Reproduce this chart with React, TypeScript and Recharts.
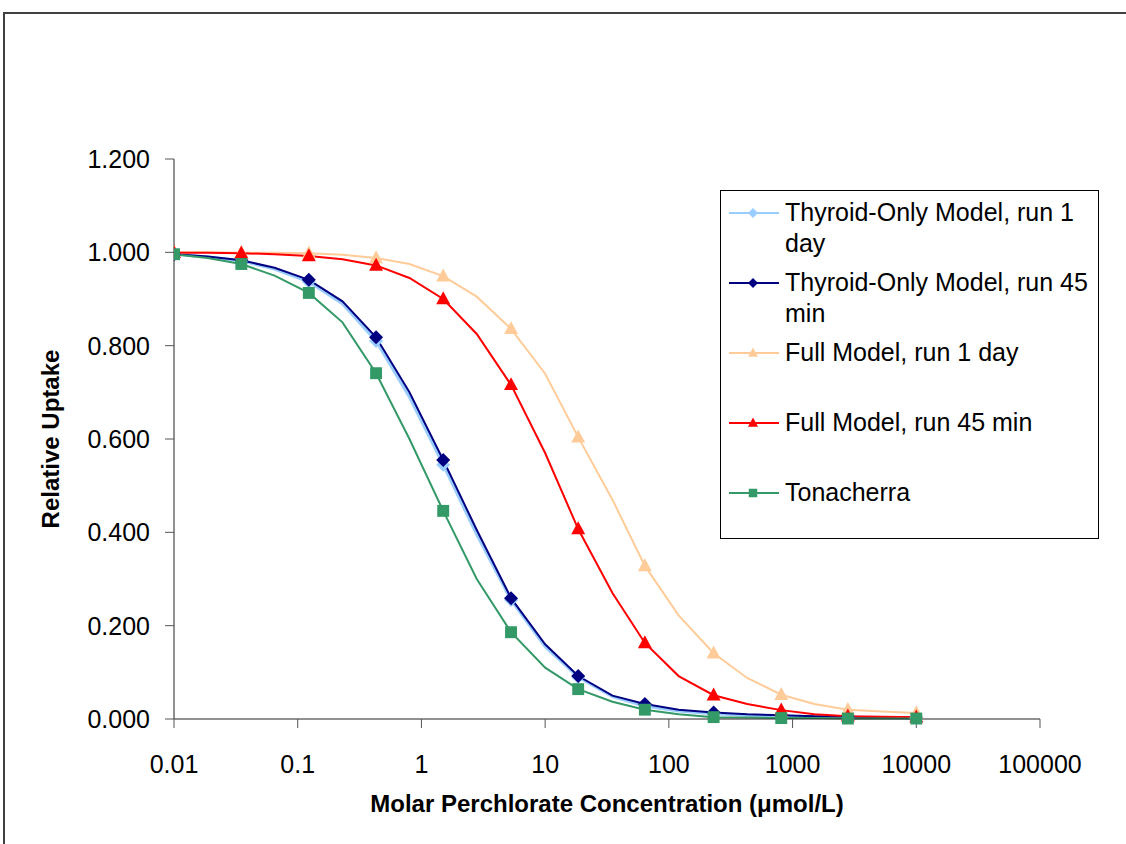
import * as React from 'react';
import { LineChart, Line, XAxis, YAxis, Legend, Label } from 'recharts';

// concentrations (µmol/L); markers sit on every other point
const conc = [0.01, 0.0187, 0.035, 0.065, 0.123, 0.23, 0.43, 0.8, 1.5, 2.8, 5.3, 10, 18.5, 35, 64, 120, 230, 430, 810, 1500, 2800, 5300, 10000];

const thyroid1Day = [0.996, 0.99, 0.982, 0.964, 0.937, 0.89, 0.81, 0.69, 0.545, 0.395, 0.255, 0.155, 0.09, 0.048, 0.028, 0.017, 0.011, 0.008, 0.006, 0.005, 0.004, 0.003, 0.002];
const thyroid45Min = [0.996, 0.991, 0.983, 0.967, 0.941, 0.895, 0.818, 0.7, 0.555, 0.405, 0.259, 0.16, 0.092, 0.05, 0.032, 0.02, 0.014, 0.01, 0.008, 0.006, 0.005, 0.004, 0.003];
const full1Day = [1.0, 1.0, 0.999, 0.999, 0.998, 0.995, 0.988, 0.975, 0.949, 0.905, 0.836, 0.74, 0.604, 0.47, 0.328, 0.222, 0.141, 0.088, 0.052, 0.032, 0.02, 0.016, 0.013];
const full45Min = [0.999, 0.999, 0.998, 0.996, 0.992, 0.985, 0.972, 0.945, 0.9, 0.825, 0.716, 0.57, 0.407, 0.27, 0.163, 0.092, 0.051, 0.032, 0.019, 0.01, 0.006, 0.005, 0.004];
const tonacherra = [0.996, 0.988, 0.975, 0.95, 0.913, 0.85, 0.741, 0.6, 0.446, 0.3, 0.186, 0.11, 0.064, 0.037, 0.02, 0.01, 0.004, 0.003, 0.002, 0.002, 0.001, 0.001, 0.001];

const xTicks = [0.01, 0.1, 1, 10, 100, 1000, 10000, 100000];
const yTicks = [0, 0.2, 0.4, 0.6, 0.8, 1.0, 1.2];

type Shape = 'diamond' | 'triangle' | 'square';

const series: { key: string; name: string; lines: string[]; color: string; shape: Shape; width: number }[] = [
  { key: 't1d', name: 'Thyroid-Only Model, run 1 day', lines: ['Thyroid-Only Model, run 1', 'day'], color: '#99CCFF', shape: 'diamond', width: 3 },
  { key: 't45', name: 'Thyroid-Only Model, run 45 min', lines: ['Thyroid-Only Model, run 45', 'min'], color: '#000080', shape: 'diamond', width: 2 },
  { key: 'f1d', name: 'Full Model, run 1 day', lines: ['Full Model, run 1 day'], color: '#FFCC99', shape: 'triangle', width: 2 },
  { key: 'f45', name: 'Full Model, run 45 min', lines: ['Full Model, run 45 min'], color: '#FF0000', shape: 'triangle', width: 2 },
  { key: 'ton', name: 'Tonacherra', lines: ['Tonacherra'], color: '#339966', shape: 'square', width: 2 },
];

const data = conc.map((c, i) => ({
  conc: c,
  t1d: thyroid1Day[i],
  t45: thyroid45Min[i],
  f1d: full1Day[i],
  f45: full45Min[i],
  ton: tonacherra[i],
}));

function marker(shape: Shape, cx: number, cy: number, color: string, s: number, key?: string) {
  if (shape === 'diamond') {
    return <polygon key={key} points={`${cx},${cy - s} ${cx + s},${cy} ${cx},${cy + s} ${cx - s},${cy}`} fill={color} />;
  }
  if (shape === 'triangle') {
    return <polygon key={key} points={`${cx},${cy - s * 1.1} ${cx + s},${cy + s * 0.75} ${cx - s},${cy + s * 0.75}`} fill={color} />;
  }
  return <rect key={key} x={cx - s * 0.85} y={cy - s * 0.85} width={s * 1.7} height={s * 1.7} fill={color} />;
}

const makeDot = (shape: Shape, color: string) => (props: any) => {
  const { cx, cy, index } = props;
  if (index % 2 !== 0 || cx == null || cy == null) return <g key={`e-${index}`} />;
  return marker(shape, cx, cy, color, 7, `d-${index}`);
};

const font = '"Liberation Sans", Arial, sans-serif';

function LegendBox() {
  return (
    <div
      style={{
        position: 'relative',
        width: 379,
        height: 349,
        border: '1px solid #000',
        boxSizing: 'border-box',
        background: '#fff',
        fontFamily: font,
        fontSize: 25,
        color: '#000',
      }}
    >
      {series.map((s, i) => (
        <div key={s.key} style={{ position: 'absolute', left: 0, top: 6 + i * 70, width: 379 }}>
          <svg width={60} height={32} style={{ position: 'absolute', left: 0, top: 0 }}>
            <line x1={8} x2={58} y1={16} y2={16} stroke={s.color} strokeWidth={2} />
            {marker(s.shape, 32, 16, s.color, 5)}
          </svg>
          <div style={{ position: 'absolute', left: 64, top: 0, lineHeight: '31px', whiteSpace: 'nowrap' }}>
            {s.lines.map((l) => (
              <div key={l}>{l}</div>
            ))}
          </div>
        </div>
      ))}
    </div>
  );
}

export default function App(): React.JSX.Element {
  return (
    <div style={{ position: 'absolute', left: 0, top: 0, width: 1126, height: 844, overflow: 'hidden', background: '#fff' }}>
      <div
        style={{
          position: 'absolute',
          left: 3,
          top: 12,
          width: 1300,
          height: 1000,
          borderLeft: '2px solid #404040',
          borderTop: '2px solid #404040',
        }}
      />
      <div style={{ position: 'absolute', left: 0, top: 0 }}>
        <LineChart width={1126} height={844} data={data} margin={{ top: 159, right: 86, bottom: 0, left: 0 }}>
          <XAxis
            dataKey="conc"
            type="number"
            scale="log"
            domain={[0.01, 100000]}
            ticks={xTicks}
            interval={0}
            allowDataOverflow
            height={125}
            stroke="#222"
            tickLine={{ stroke: '#555' }}
            tickSize={9}
            tickMargin={27}
            tick={{ fill: '#000', fontSize: 25, fontFamily: font }}
            tickFormatter={(v: number) => String(v)}
          >
            <Label
              value="Molar Perchlorate Concentration (μmol/L)"
              position="insideBottom"
              offset={32}
              style={{ fontFamily: font, fontSize: 24, fontWeight: 'bold', fill: '#000' }}
            />
          </XAxis>
          <YAxis
            type="number"
            domain={[0, 1.2]}
            ticks={yTicks}
            interval={0}
            width={174}
            stroke="#222"
            tickLine={{ stroke: '#555' }}
            tickSize={9}
            tickMargin={15}
            tick={{ fill: '#000', fontSize: 25, fontFamily: font }}
            tickFormatter={(v: number) => v.toFixed(3)}
          >
            <Label
              value="Relative Uptake"
              angle={-90}
              position="insideLeft"
              offset={50}
              style={{ fontFamily: font, fontSize: 24, fontWeight: 'bold', fill: '#000', textAnchor: 'middle' }}
            />
          </YAxis>
          <Legend
            layout="horizontal"
            verticalAlign="middle"
            align="center"
            width={379}
            height={349}
            wrapperStyle={{ left: 720, top: 190, width: 379, height: 349 }}
            content={() => <LegendBox />}
          />
          {series.map((s) => (
            <Line
              key={s.key}
              dataKey={s.key}
              name={s.name}
              type="linear"
              stroke={s.color}
              strokeWidth={s.width}
              dot={makeDot(s.shape, s.color)}
              activeDot={false}
              isAnimationActive={false}
            />
          ))}
        </LineChart>
      </div>
    </div>
  );
}
